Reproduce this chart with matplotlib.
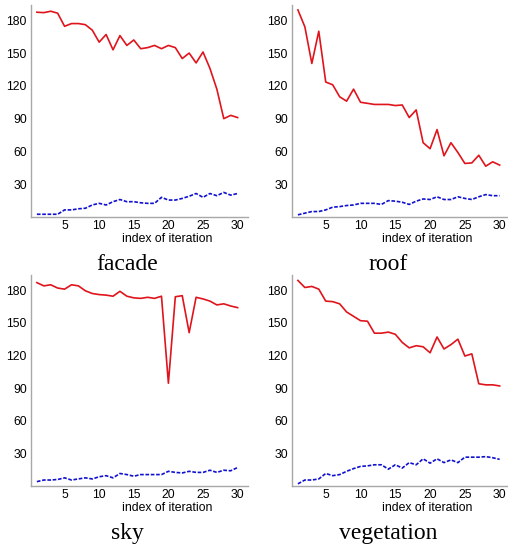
import matplotlib

matplotlib.use("Agg")

import matplotlib.pyplot as plt  # noqa: E402

W, H = 508, 547

iterations = list(range(1, 31))

facade_red = [187.4, 187, 188.3, 186.5, 174.5, 177, 177, 176, 171, 160,
              167, 153, 166, 157, 162, 154, 155, 157, 154, 157,
              155, 145, 150, 141, 151, 136, 117, 90, 93, 91]
facade_blue = [2.5, 2.5, 2.5, 2.5, 6.5, 6.5, 7.5, 8, 11, 12.5,
               11, 14, 16, 14, 14, 13, 12.5, 12.5, 18, 15.5,
               15.5, 17, 19, 21.5, 18, 21.5, 19.5, 22.5, 20, 21.5]

roof_red = [189.5, 174, 140.5, 170, 123.5, 121, 110, 106, 117, 105,
            104, 103, 103, 103, 102, 102.5, 91, 98, 68, 62.5,
            80, 56, 68, 59, 49, 49.5, 56.5, 46.5, 50.5, 47.5]
roof_blue = [2, 3.5, 5, 5, 6.5, 9, 9.5, 10.5, 11, 12.5,
             12.5, 12.5, 11.5, 15, 14.5, 13.5, 11.5, 14.5, 16.5, 16,
             18.5, 16, 16, 18.5, 17, 16, 18.5, 20.5, 19.5, 19.5]

sky_red = [187, 184, 185, 182, 181, 185, 184, 179.5, 177, 176,
           175.5, 174.5, 179, 174.5, 173, 172.5, 173.5, 172.5, 174.5, 94.5,
           174, 175, 141, 173.5, 172, 170, 166.5, 167.5, 165.5, 164]
sky_blue = [4, 5.5, 5.5, 6, 7.5, 5.5, 6.5, 7.5, 6.5, 8.5,
            9.5, 7.5, 11.5, 10.5, 9, 10.5, 10.5, 10.5, 10.5, 13.5,
            12.5, 12, 13.5, 12.5, 12.5, 14.5, 12.5, 14.5, 14, 17]

veg_red = [189, 182.5, 183.5, 181, 170, 169.5, 167.5, 160, 156, 152,
           151.5, 140.5, 140.5, 141.5, 139.5, 132, 127, 129, 128, 122.5,
           137, 126, 130, 135, 119.5, 121.5, 94, 93, 93, 92]
veg_blue = [2, 5.5, 5.5, 6.5, 11.5, 9.5, 10.5, 13.5, 16, 18,
            18.5, 19.5, 19.5, 15.5, 19.5, 16.5, 21.5, 19.5, 25, 21,
            25, 21.5, 24, 21.5, 26.5, 26.5, 26.5, 27, 26, 24.5]

captions = ["facade", "roof", "sky", "vegetation"]
y_ticks = [30, 60, 90, 120, 150, 180]
x_ticks = [5, 10, 15, 20, 25, 30]

# panel boxes in pixels: left, right, top, bottom
boxes = [(31, 248, 5, 217), (292, 508, 5, 217),
         (31, 248, 275, 486), (292, 508, 275, 486)]
series = [(facade_red, facade_blue), (roof_red, roof_blue),
          (sky_red, sky_blue), (veg_red, veg_blue)]

fig = plt.figure(figsize=(W / 100, H / 100), dpi=100)

for (l, r, t, b), (red, blue), cap in zip(boxes, series, captions):
    ax = fig.add_axes([l / W, 1 - b / H, (r - l) / W, (b - t) / H])
    ax.plot(iterations, red, color="#e0141c", lw=1.2)
    ax.plot(iterations, blue, color="#1010d0", lw=1.2, ls=(0, (2.2, 1.0)))
    ax.set_xlim(0.15, 31.5 if r < 500 else 31.2)
    ax.set_ylim(0, 194)
    ax.set_xticks(x_ticks)
    ax.set_yticks(y_ticks)
    for side in ("top", "right"):
        ax.spines[side].set_visible(False)
    for side in ("left", "bottom"):
        ax.spines[side].set_color("#a8a8a8")
        ax.spines[side].set_linewidth(1.0)
    ax.tick_params(axis="x", length=0, pad=2, labelsize=8.8)
    ax.tick_params(axis="y", length=0, pad=3, labelsize=8.8)
    for lab in ax.get_xticklabels() + ax.get_yticklabels():
        lab.set_fontfamily("Liberation Sans")
    ax.text(0.627, -22 / (b - t), "index of iteration",
            transform=ax.transAxes, ha="center", va="center",
            fontsize=8.8, family="Liberation Sans")
    fig.text((l + 96) / W, 1 - (b + 47) / H, cap, ha="center", va="center",
             fontsize=17, family="Liberation Serif")

fig.savefig("out.png", dpi=100)
